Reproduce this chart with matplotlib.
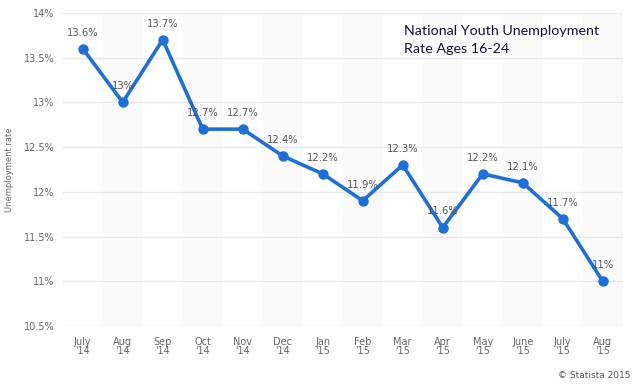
import matplotlib.pyplot as plt
import numpy as np

months = ["July\n'14", "Aug\n'14", "Sep\n'14", "Oct\n'14", "Nov\n'14", "Dec\n'14", "Jan\n'15",
          "Feb\n'15", "Mar\n'15", "Apr\n'15", "May\n'15", "June\n'15", "July\n'15", "Aug\n'15"]
rate = [13.6, 13.0, 13.7, 12.7, 12.7, 12.4, 12.2, 11.9, 12.3, 11.6, 12.2, 12.1, 11.7, 11.0]
labels = ["13.6%", "13%", "13.7%", "12.7%", "12.7%", "12.4%", "12.2%", "11.9%", "12.3%",
          "11.6%", "12.2%", "12.1%", "11.7%", "11%"]
yticks = [10.5, 11, 11.5, 12, 12.5, 13, 13.5, 14]
ytick_labels = ["10.5%", "11%", "11.5%", "12%", "12.5%", "13%", "13.5%", "14%"]

fig = plt.figure(figsize=(6.4, 3.89), dpi=100)
ax = fig.add_axes([0.098, 0.162, 0.875, 0.805])

x = np.arange(len(months))
for i in x:
    if i % 2 == 1:
        ax.axvspan(i - 0.5, i + 0.5, color='#fafafa', zorder=0, lw=0)

for t in yticks:
    ax.axhline(t, color='#e8e8e8', lw=1, zorder=1)

blue = '#1f6fd8'
ax.plot(x, rate, color=blue, lw=2.6, marker='o', ms=6.5, zorder=3)
for xi, yi, lab in zip(x, rate, labels):
    ax.annotate(lab, (xi, yi), xytext=(0, 8), textcoords='offset points',
                ha='center', va='bottom', fontsize=7.2, color='#555555', zorder=4)

ax.set_xlim(-0.5, len(months) - 0.5)
ax.set_ylim(10.5, 14)
ax.set_xticks(x)
ax.set_xticklabels(months, fontsize=7, color='#666666', linespacing=0.9)
ax.set_yticks(yticks)
ax.set_yticklabels(ytick_labels, fontsize=7, color='#666666')
ax.tick_params(length=0, pad=8)
ax.tick_params(axis='y', pad=6)
for s in ax.spines.values():
    s.set_visible(False)

ax.set_ylabel('Unemployment rate', fontsize=6, color='#666666', labelpad=7)

fig.text(0.631, 0.897, 'National Youth Unemployment\nRate Ages 16-24', fontsize=10.3,
         family='Lato', color='#14143a', ha='left', va='center', linespacing=1.55)
fig.text(0.985, 0.022, '\u00a9 Statista 2015', fontsize=6.5, color='#555555', ha='right', va='bottom')

fig.savefig('out.png', dpi=100)
